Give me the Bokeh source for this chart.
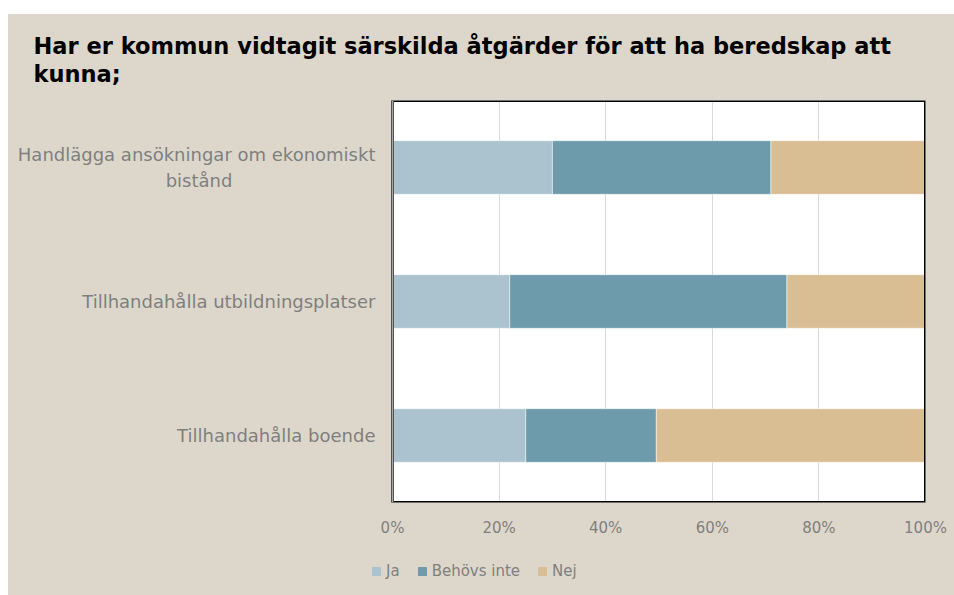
from bokeh.plotting import figure
from bokeh.models import (ColumnDataSource, FactorRange, Range1d, Legend, LegendItem,
                          NumeralTickFormatter, FixedTicker, Title, BoxAnnotation, Span, Spacer)
from bokeh.layouts import column, row
from bokeh.core.properties import value
from bokeh.embed import file_html
from bokeh.resources import INLINE

categories = ["Handlägga ansökningar om ekonomiskt bistånd",
              "Tillhandahålla utbildningsplatser",
              "Tillhandahålla boende"]
NBSP = "\u00a0"
category_labels = ["Handlägga ansökningar om ekonomiskt\nbistånd" + NBSP * 25,
                   "Tillhandahålla utbildningsplatser",
                   "Tillhandahålla boende"]
series = ["Ja", "Behövs inte", "Nej"]
ja = [0.30, 0.22, 0.25]
behovs_inte = [0.41, 0.52, 0.245]
nej = [0.29, 0.26, 0.505]
x_ticks = [0, 0.2, 0.4, 0.6, 0.8, 1.0]
title_lines = ["Har er kommun vidtagit särskilda åtgärder för att ha beredskap att", "kunna;"]

colors = ["#ABC3CF", "#6D9BAC", "#DABE93"]
BG = "#DDD7CB"
GRAY = "#7F7F7F"
FONT = "DejaVu Sans"

source = ColumnDataSource(dict(cat=categories, label=category_labels,
                               **{"Ja": ja, "Behövs inte": behovs_inte, "Nej": nej}))

# ---------------- main chart ----------------
p = figure(width=946, height=531, output_backend="svg", toolbar_location=None,
           y_range=FactorRange(*reversed(categories)),
           x_range=Range1d(-0.7205, 1.0),
           min_border_left=0, min_border_right=29, min_border_top=86, min_border_bottom=43)
p.background_fill_alpha = 0
p.border_fill_color = BG
p.outline_line_color = None

# white plot area, drawn before the grid
white_box = BoxAnnotation(left=0, right=1, fill_color="white", fill_alpha=1,
                          line_color=None, level="underlay")
p.center = [white_box] + list(p.center)

p.hbar_stack(series, y="cat", height=0.4, color=colors, source=source,
             line_color="white", line_width=0.5)

# category labels
p.text(x=-0.032, y="cat", text="label", source=source, text_align="right",
       text_baseline="middle", text_font=value(FONT), text_font_size=value("18px"),
       text_color=GRAY)

# plot-area border
p.add_layout(BoxAnnotation(left=0, right=1, fill_alpha=0, line_color="black",
                           line_alpha=1, line_width=3))
p.add_layout(Span(location=0, dimension="height", line_color="#A6A6A6", line_width=2))

p.xgrid.ticker = FixedTicker(ticks=x_ticks)
p.xgrid.grid_line_color = "#D9D9D9"
p.xgrid.grid_line_width = 1
p.ygrid.grid_line_color = None

p.xaxis.ticker = FixedTicker(ticks=x_ticks)
p.xaxis.formatter = NumeralTickFormatter(format="0%")
p.xaxis.axis_line_color = None
p.xaxis.major_tick_line_color = None
p.xaxis.minor_tick_line_color = None
p.xaxis.major_tick_out = 0
p.xaxis.major_tick_in = 0
p.xaxis.major_label_text_font = FONT
p.xaxis.major_label_text_font_size = "15px"
p.xaxis.major_label_text_color = GRAY
p.xaxis.major_label_standoff = 16
p.yaxis.visible = False

title_style = dict(align="left", offset=25, text_font=FONT, text_font_style="bold",
                   text_font_size="22.5px", text_color="black")
p.add_layout(Title(text=title_lines[1], standoff=27, **title_style), "above")
try:
    t1 = Title(text=title_lines[0], standoff=-27, **title_style)
except Exception:
    t1 = Title(text=title_lines[0], standoff=0, **title_style)
p.add_layout(t1, "above")

# ---------------- legend strip ----------------
pl = figure(width=946, height=50, output_backend="svg", toolbar_location=None,
            x_axis_location=None, y_axis_location=None,
            y_range=FactorRange(*categories), x_range=Range1d(10, 11),
            min_border=0)
pl.background_fill_alpha = 0
pl.border_fill_color = BG
pl.outline_line_color = None
pl.grid.grid_line_color = None
leg_renderers = pl.hbar_stack(series, y="cat", height=0.4, color=colors, source=source)
for r in leg_renderers:
    r.visible = False

legend = Legend(items=[LegendItem(label=s, renderers=[r]) for s, r in zip(series, leg_renderers)],
                orientation="horizontal", location=(363, 15),
                glyph_width=10, glyph_height=10, label_standoff=5, spacing=17, label_width=0,
                padding=0, margin=0, border_line_color=None, background_fill_alpha=0,
                inactive_fill_alpha=0,
                label_text_font=FONT, label_text_font_size="15px", label_text_color=GRAY)
pl.add_layout(legend, "center")

chart = column(p, pl, styles={"background-color": BG})
layout = row(Spacer(width=8, height=595), column(Spacer(width=946, height=14), chart))
open("out.html", "w").write(file_html(layout, INLINE))
